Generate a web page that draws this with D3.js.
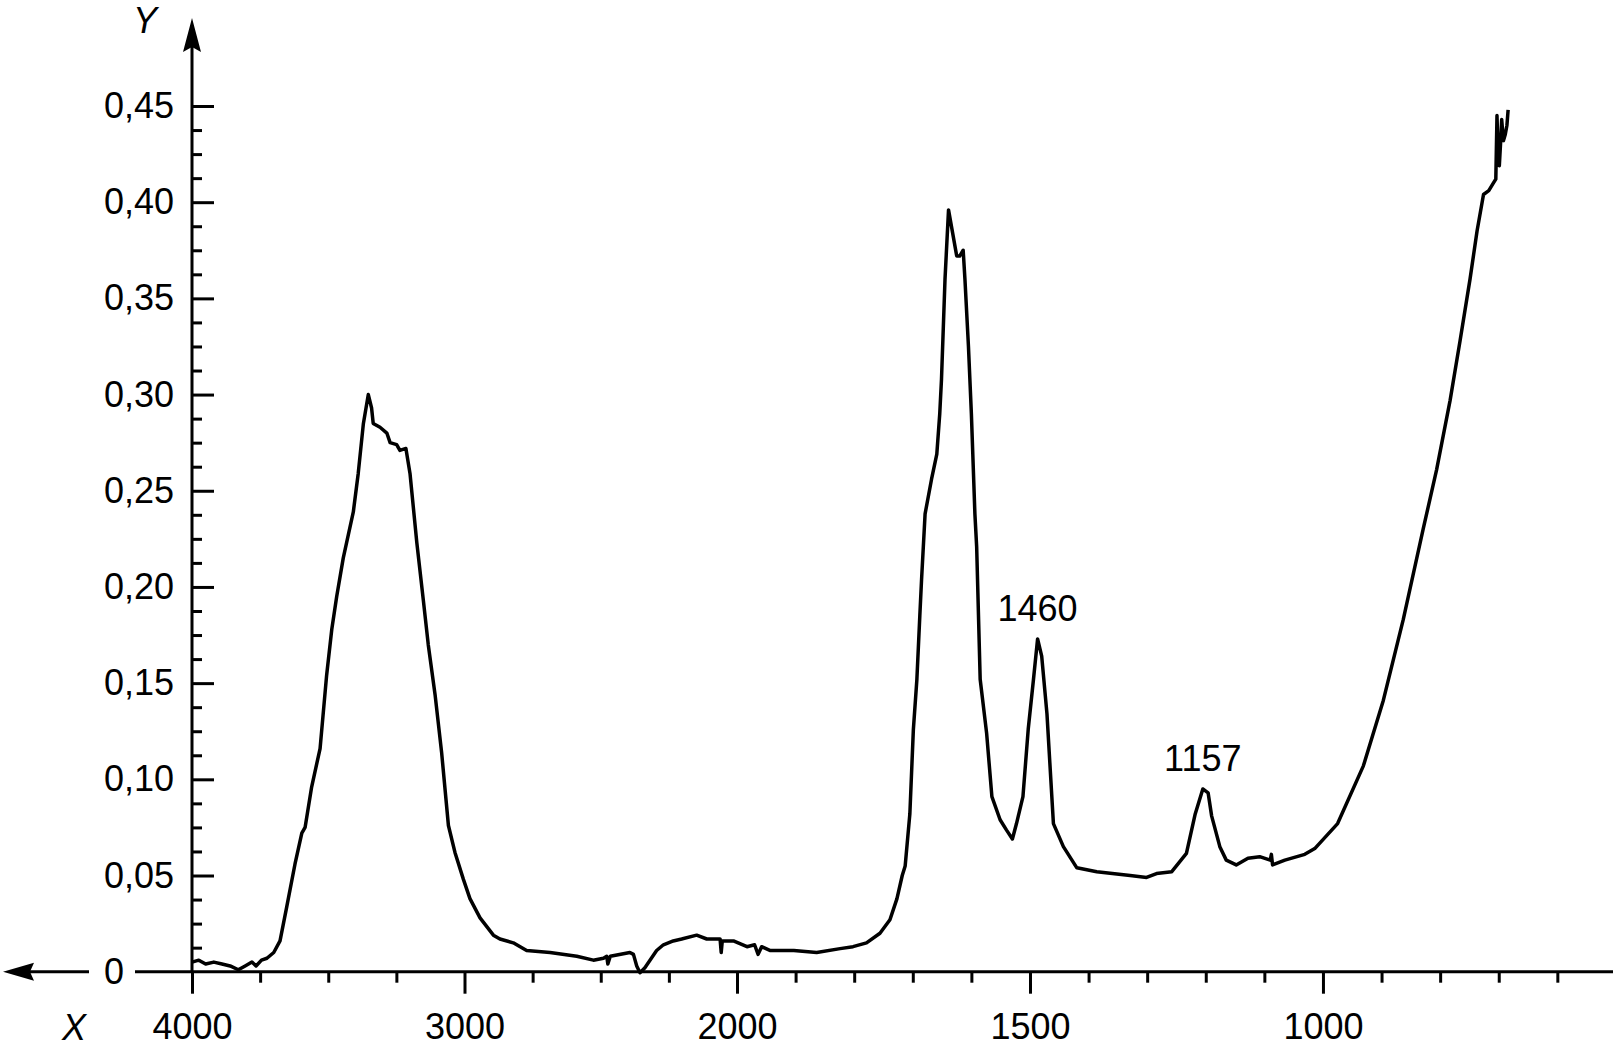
<!DOCTYPE html>
<html>
<head>
<meta charset="utf-8">
<script src="https://cdn.jsdelivr.net/npm/d3@7"></script>
<style>
  body { margin: 0; background: #fff; }
  svg { display: block; font-family: "Liberation Sans", Arial, sans-serif; }
</style>
</head>
<body>
<script>
// spectrum: wavenumber / absorbance
const wavenumber = [
  4000, 3975, 3950, 3920, 3890, 3860, 3830, 3805, 3780, 3765, 3745, 3725, 3700, 3677, 3652, 3622,
  3597, 3585, 3561, 3530, 3506, 3487, 3469, 3445, 3408, 3390, 3371, 3353, 3341, 3335, 3310, 3285,
  3273, 3249, 3237, 3215, 3200, 3175, 3151, 3133, 3108, 3084, 3059, 3035, 3004, 2980, 2943, 2894,
  2870, 2821, 2772, 2686, 2588, 2527, 2490, 2478, 2474, 2465, 2393, 2380, 2368, 2356, 2338, 2295,
  2270, 2234, 2203, 2148, 2111, 2062, 2058, 2054, 2013, 1983, 1970, 1964, 1958, 1943, 1903, 1864,
  1824, 1802, 1779, 1756, 1739, 1727, 1718, 1713, 1705, 1699, 1693, 1688, 1685, 1679, 1668, 1659,
  1654, 1651, 1645, 1639, 1625, 1620, 1614, 1611, 1605, 1600, 1594, 1591, 1585, 1574, 1565, 1551,
  1540, 1530, 1523, 1512, 1503, 1494, 1487, 1480, 1471, 1460, 1443, 1420, 1386, 1329, 1301, 1284,
  1258, 1233, 1218, 1205, 1196, 1190, 1176, 1165, 1148, 1128, 1108, 1090, 1088, 1086, 1065, 1031,
  1014, 975, 931, 897, 863, 829, 806, 783, 766, 749, 737, 726, 717, 709, 705, 703,
  701, 699, 697, 695, 692, 689, 686, 684
];
const absorbance = [
  0.005, 0.006, 0.004, 0.005, 0.004, 0.003, 0.001, 0.003, 0.005, 0.003, 0.006, 0.007, 0.010, 0.016, 0.034, 0.056,
  0.072, 0.075, 0.096, 0.116, 0.154, 0.178, 0.195, 0.215, 0.239, 0.259, 0.285, 0.300, 0.293, 0.285, 0.283, 0.280,
  0.275, 0.274, 0.271, 0.272, 0.259, 0.223, 0.193, 0.170, 0.144, 0.114, 0.076, 0.062, 0.048, 0.038, 0.028, 0.019,
  0.017, 0.015, 0.011, 0.010, 0.008, 0.006, 0.007, 0.008, 0.004, 0.008, 0.010, 0.009, 0.003, -0.0005, 0.002, 0.011,
  0.014, 0.016, 0.017, 0.019, 0.017, 0.017, 0.010, 0.016, 0.016, 0.013, 0.014, 0.009, 0.013, 0.011, 0.011, 0.010,
  0.012, 0.013, 0.015, 0.020, 0.027, 0.038, 0.050, 0.055, 0.082, 0.126, 0.152, 0.185, 0.204, 0.238, 0.256, 0.269,
  0.290, 0.308, 0.360, 0.396, 0.372, 0.372, 0.375, 0.360, 0.325, 0.290, 0.238, 0.221, 0.152, 0.124, 0.091, 0.079,
  0.0736, 0.069, 0.077, 0.091, 0.126, 0.152, 0.173, 0.164, 0.134, 0.077, 0.065, 0.054, 0.052, 0.050, 0.049, 0.051,
  0.052, 0.0615, 0.082, 0.095, 0.093, 0.081, 0.065, 0.058, 0.0555, 0.059, 0.0598, 0.058, 0.061, 0.0555, 0.058, 0.061,
  0.064, 0.077, 0.107, 0.141, 0.183, 0.230, 0.261, 0.297, 0.328, 0.360, 0.385, 0.404, 0.406, 0.410, 0.412, 0.445,
  0.425, 0.419, 0.430, 0.443, 0.432, 0.435, 0.440, 0.448
];

const xMajorTicks = [4000, 3000, 2000, 1500, 1000];
const xMinorTicks = [3750, 3500, 3250, 2750, 2500, 2250, 1900, 1800, 1700, 1600, 1400, 1300, 1200, 1100, 900, 800, 700, 600];
const yMajorTicks = [0.05, 0.10, 0.15, 0.20, 0.25, 0.30, 0.35, 0.40, 0.45];
const yMinorTicks = [0.0125, 0.025, 0.0375, 0.0625, 0.075, 0.0875, 0.1125, 0.125, 0.1375, 0.1625, 0.175, 0.1875,
  0.2125, 0.225, 0.2375, 0.2625, 0.275, 0.2875, 0.3125, 0.325, 0.3375, 0.3625, 0.375, 0.3875, 0.4125, 0.425, 0.4375];

const peakLabels = ["1460", "1157"];
const peakX = [1487, 1205];
const peakY = [0.173, 0.095];

const width = 1618, height = 1045;
const fontSize = 36;

// the x axis is stretched below 2000
const x = d3.scaleLinear().domain([4000, 2000, 505]).range([192, 737, 1613]);
const y = d3.scaleLinear().domain([0, 0.45]).range([971.7, 106]);

const locale = d3.formatLocale({ decimal: ",", thousands: "", grouping: [3], currency: ["", ""] });
const fmt = locale.format(".2f");

const svg = d3.select("body").append("svg")
    .attr("width", width)
    .attr("height", height);

// x axis line with arrow on the left
svg.append("line")
    .attr("x1", 20).attr("x2", x.range()[2])
    .attr("y1", y(0)).attr("y2", y(0))
    .attr("stroke", "#000").attr("stroke-width", 3);
svg.append("path")
    .attr("d", `M3,${y(0)} L34,${y(0) - 9} L30,${y(0)} L34,${y(0) + 9} Z`)
    .attr("fill", "#000");

// y axis line with arrow at the top
svg.append("line")
    .attr("x1", x(4000)).attr("x2", x(4000))
    .attr("y1", y(0)).attr("y2", 40)
    .attr("stroke", "#000").attr("stroke-width", 3);
svg.append("path")
    .attr("d", `M${x(4000)},18 L${x(4000) - 9},52 L${x(4000)},47 L${x(4000) + 9},52 Z`)
    .attr("fill", "#000");

// ticks
const styleAxis = g => {
    g.select(".domain").remove();
    g.selectAll(".tick line").attr("stroke", "#000").attr("stroke-width", 3);
    g.selectAll("text").attr("fill", "#000").style("font-size", fontSize + "px");
};

svg.append("g")
    .attr("transform", `translate(0,${y(0)})`)
    .call(d3.axisBottom(x).tickValues(xMajorTicks).tickSize(22).tickPadding(20).tickFormat(d3.format("d")))
    .call(styleAxis);

svg.append("g")
    .attr("transform", `translate(0,${y(0)})`)
    .call(d3.axisBottom(x).tickValues(xMinorTicks).tickSize(11).tickFormat(""))
    .call(styleAxis);

svg.append("g")
    .attr("transform", `translate(${x(4000)},0)`)
    .call(d3.axisLeft(y).tickValues(yMajorTicks).tickSize(-22).tickPadding(18).tickFormat(fmt))
    .call(styleAxis);

svg.append("g")
    .attr("transform", `translate(${x(4000)},0)`)
    .call(d3.axisLeft(y).tickValues(yMinorTicks).tickSize(-10).tickFormat(""))
    .call(styleAxis);

// the zero label sits on the x axis line
svg.append("rect")
    .attr("x", 89).attr("y", y(0) - 16)
    .attr("width", 46).attr("height", 32)
    .attr("fill", "#fff");
svg.append("text")
    .attr("x", 114).attr("y", y(0) + 12)
    .attr("text-anchor", "middle")
    .style("font-size", fontSize + "px")
    .text("0");

// axis names
svg.append("text")
    .attr("x", 74).attr("y", 1040)
    .attr("text-anchor", "middle")
    .style("font-size", fontSize + "px")
    .style("font-style", "italic")
    .text("X");
svg.append("text")
    .attr("x", 145).attr("y", 33)
    .attr("text-anchor", "middle")
    .style("font-size", fontSize + "px")
    .style("font-style", "italic")
    .text("Y");

// spectrum
const data = wavenumber.map((w, i) => [w, absorbance[i]]);
const line = d3.line()
    .x(d => x(d[0]))
    .y(d => y(d[1]));

svg.append("path")
    .datum(data)
    .attr("d", line)
    .attr("fill", "none")
    .attr("stroke", "#000")
    .attr("stroke-width", 3.5)
    .attr("stroke-linejoin", "round");

// peak labels
svg.append("g")
    .selectAll("text")
    .data(peakLabels)
    .join("text")
    .attr("x", (d, i) => x(peakX[i]))
    .attr("y", (d, i) => y(peakY[i]) - 18)
    .attr("text-anchor", "middle")
    .style("font-size", fontSize + "px")
    .text(d => d);
</script>
</body>
</html>
